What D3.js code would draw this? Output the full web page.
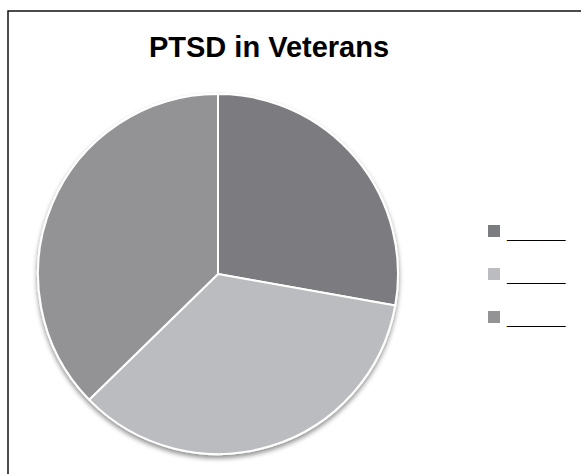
<!DOCTYPE html>
<html lang="en">
<head>
    <meta charset="UTF-8">
    <title>PTSD in Veterans</title>
    <script src="https://cdn.jsdelivr.net/npm/d3@7"></script>
    <style>
        body { margin: 0; padding: 0; background: #fff; }
        svg { display: block; }
    </style>
</head>
<body>
    <div id="chart"></div>
    <script>
        const width = 581;
        const height = 474;

        // slice values (clockwise from 12 o'clock)
        const categories = ["_____", "_____ ", "_____  "];
        const values = [27.8, 34.9, 37.3];
        const colors = ["#7b7c80", "#bbbcbf", "#939396"];

        const svg = d3.select("#chart").append("svg")
            .attr("width", width)
            .attr("height", height);

        // frame (right and bottom edges fall outside the window)
        svg.append("rect")
            .attr("x", 8).attr("y", 11)
            .attr("width", 600).attr("height", 500)
            .attr("fill", "#fff")
            .attr("stroke", "#000")
            .attr("stroke-width", 1.4);

        svg.append("text")
            .attr("x", 269).attr("y", 57)
            .attr("text-anchor", "middle")
            .style("font-family", "Liberation Sans, Arial, sans-serif")
            .style("font-weight", "bold")
            .style("font-size", "29px")
            .text("PTSD in Veterans");

        const defs = svg.append("defs");
        const shadow = defs.append("filter").attr("id", "shadow")
            .attr("x", "-10%").attr("y", "-10%").attr("width", "120%").attr("height", "125%");
        shadow.append("feGaussianBlur").attr("in", "SourceAlpha").attr("stdDeviation", 2.5);
        shadow.append("feOffset").attr("dx", 0).attr("dy", 3).attr("result", "blur");
        shadow.append("feComponentTransfer").append("feFuncA").attr("type", "linear").attr("slope", 0.45);
        const merge = shadow.append("feMerge");
        merge.append("feMergeNode");
        merge.append("feMergeNode").attr("in", "SourceGraphic");

        const radius = 180;
        const pie = d3.pie().sort(null).value(d => d);
        const arc = d3.arc().innerRadius(0).outerRadius(radius);

        const g = svg.append("g")
            .attr("transform", "translate(218,274)")
            .attr("filter", "url(#shadow)");

        g.selectAll("path")
            .data(pie(values))
            .enter()
            .append("path")
            .attr("d", arc)
            .attr("fill", (d, i) => colors[i])
            .attr("stroke", "#fff")
            .attr("stroke-width", 2)
            .attr("stroke-linejoin", "round");

        // legend
        const legend = svg.append("g");
        const rowY = d3.scalePoint().domain(d3.range(categories.length)).range([231, 317]);

        legend.selectAll("rect")
            .data(categories)
            .enter()
            .append("rect")
            .attr("x", 488)
            .attr("y", (d, i) => rowY(i) - 6)
            .attr("width", 12).attr("height", 12)
            .attr("fill", (d, i) => colors[i]);

        legend.selectAll("text")
            .data(categories)
            .enter()
            .append("text")
            .attr("x", 507)
            .attr("y", (d, i) => rowY(i) + 7)
            .style("font-family", "Liberation Sans, Arial, sans-serif")
            .style("font-weight", "bold")
            .style("font-size", "21px")
            .text(d => d.trim());
    </script>
</body>
</html>
